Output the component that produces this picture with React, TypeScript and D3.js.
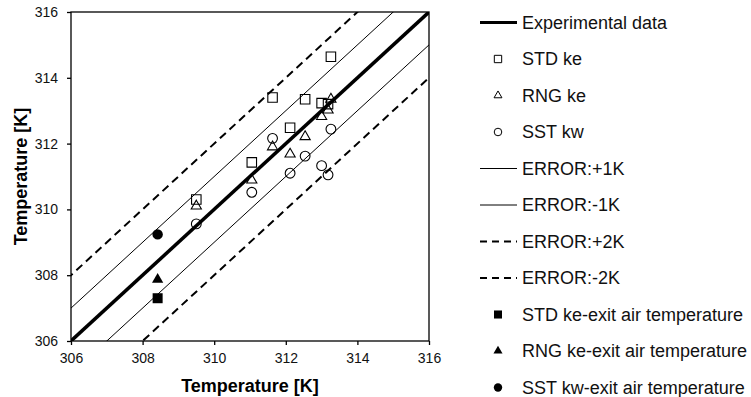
import React, { useRef, useEffect } from "react";
import * as d3 from "d3";

// measured temperatures (x) and predicted temperatures per model (y)
const measured = [309.5, 311.05, 311.63, 312.12, 312.54, 313.0, 313.18, 313.26];
const stdKe = [310.3, 311.43, 313.4, 312.48, 313.35, 313.23, 313.2, 314.64];
const rngKe = [310.1, 310.89, 311.9, 311.68, 312.21, 312.82, 313.02, 313.35];
const sstKw = [309.56, 310.52, 312.16, 311.1, 311.62, 311.33, 311.05, 312.44];

// exit air temperature points
const exitMeasured = 308.42;
const exitStd = 307.3;
const exitRng = 307.87;
const exitSst = 309.24;

const axisTicks = [306, 308, 310, 312, 314, 316];
const errorOffsets = [0, 1, -1, 2, -2];

const legendLabels = [
  "Experimental data",
  "STD ke",
  "RNG ke",
  "SST kw",
  "ERROR:+1K",
  "ERROR:-1K",
  "ERROR:+2K",
  "ERROR:-2K",
  "STD ke-exit air temperature",
  "RNG ke-exit air temperature",
  "SST kw-exit air temperature",
];

const font = "'Liberation Sans', Arial, sans-serif";

const App = () => {
  const svgRef = useRef<SVGSVGElement>(null);

  useEffect(() => {
    const svg = d3.select(svgRef.current);
    svg.selectAll("*").remove();
    const width = 751;
    const height = 397;
    const margin = { top: 12, right: 322, bottom: 56, left: 71 };

    svg.attr("width", width).attr("height", height);

    const x = d3
      .scaleLinear()
      .domain([306, 316])
      .range([margin.left, width - margin.right]);
    const y = d3
      .scaleLinear()
      .domain([306, 316])
      .range([height - margin.bottom, margin.top]);

    svg
      .append("clipPath")
      .attr("id", "plot-clip")
      .append("rect")
      .attr("x", margin.left)
      .attr("y", margin.top)
      .attr("width", x(316) - x(306))
      .attr("height", y(306) - y(316));

    // experimental diagonal and error bands
    const lineStyle = (off: number) => {
      if (off === 0) return { w: 3.5, dash: null };
      if (Math.abs(off) === 1) return { w: 1, dash: null };
      return { w: 2, dash: "8,5" };
    };

    const lines = svg.append("g").attr("clip-path", "url(#plot-clip)");
    errorOffsets.forEach((off) => {
      const st = lineStyle(off);
      lines
        .append("path")
        .datum([300, 322])
        .attr("fill", "none")
        .attr("stroke", "#000")
        .attr("stroke-width", st.w)
        .attr("stroke-dasharray", st.dash)
        .attr(
          "d",
          d3
            .line<number>()
            .x((d) => x(d))
            .y((d) => y(d + off))
        );
    });

    // frame
    svg
      .append("rect")
      .attr("x", margin.left)
      .attr("y", margin.top)
      .attr("width", x(316) - x(306))
      .attr("height", y(306) - y(316))
      .attr("fill", "none")
      .attr("stroke", "#000")
      .attr("stroke-width", 1.3);

    const xAxis = svg
      .append("g")
      .attr("transform", `translate(0,${y(306)})`)
      .call(d3.axisBottom(x).tickValues(axisTicks).tickSize(4).tickPadding(8));
    const yAxis = svg
      .append("g")
      .attr("transform", `translate(${x(306)},0)`)
      .call(d3.axisLeft(y).tickValues(axisTicks).tickSize(4).tickPadding(9));
    [xAxis, yAxis].forEach((a) => {
      a.select(".domain").remove();
      a.selectAll("line").attr("stroke", "#000").attr("stroke-width", 1.3);
      a.selectAll("text")
        .style("font-family", font)
        .style("font-size", "14px")
        .attr("fill", "#111");
    });

    svg
      .append("text")
      .attr("x", (x(306) + x(316)) / 2)
      .attr("y", 392)
      .attr("text-anchor", "middle")
      .style("font-family", font)
      .style("font-size", "18px")
      .style("font-weight", "bold")
      .text("Temperature [K]");
    svg
      .append("text")
      .attr("transform", `translate(27,${(y(306) + y(316)) / 2}) rotate(-90)`)
      .attr("text-anchor", "middle")
      .style("font-family", font)
      .style("font-size", "18px")
      .style("font-weight", "bold")
      .text("Temperature [K]");

    // markers
    const sym = (type: d3.SymbolType, size: number) =>
      d3.symbol().type(type).size(size)();
    const series = [
      { vals: stdKe, type: d3.symbolSquare, size: 90 },
      { vals: rngKe, type: d3.symbolTriangle, size: 45 },
      { vals: sstKw, type: d3.symbolCircle, size: 75 },
    ];
    series.forEach((s) => {
      svg
        .append("g")
        .selectAll("path")
        .data(s.vals)
        .enter()
        .append("path")
        .attr("transform", (d, i) => `translate(${x(measured[i])},${y(d)})`)
        .attr("d", sym(s.type, s.size))
        .attr("fill", "none")
        .attr("stroke", "#000")
        .attr("stroke-width", 1.1);
    });

    const exits = [
      { v: exitStd, type: d3.symbolSquare, size: 100 },
      { v: exitRng, type: d3.symbolTriangle, size: 55 },
      { v: exitSst, type: d3.symbolCircle, size: 85 },
    ];
    exits.forEach((e) => {
      svg
        .append("path")
        .attr("transform", `translate(${x(exitMeasured)},${y(e.v)})`)
        .attr("d", sym(e.type, e.size))
        .attr("fill", "#000");
    });

    // legend
    const legend = svg
      .append("g")
      .style("font-family", font)
      .style("font-size", "18px");
    const rowY = (i: number) => 22.5 + i * 36.5;
    legendLabels.forEach((label, i) => {
      const cy = rowY(i);
      const g = legend.append("g");
      if (i === 0 || (i >= 4 && i <= 7)) {
        const st = lineStyle(i === 0 ? 0 : i <= 5 ? 1 : 2);
        g.append("line")
          .attr("x1", 480)
          .attr("x2", 517)
          .attr("y1", cy)
          .attr("y2", cy)
          .attr("stroke", "#000")
          .attr("stroke-width", i === 0 ? 3 : st.w)
          .attr("stroke-dasharray", st.dash ? "7,5" : null);
      } else {
        const s = i <= 3 ? series[i - 1] : exits[i - 8];
        const filled = i >= 8;
        g.append("path")
          .attr("transform", `translate(498,${cy})`)
          .attr("d", sym(s.type, filled ? s.size * 0.65 : s.size * 0.6))
          .attr("fill", filled ? "#000" : "none")
          .attr("stroke", filled ? "none" : "#000")
          .attr("stroke-width", 1);
      }
      g.append("text")
        .attr("x", 522)
        .attr("y", cy)
        .attr("dy", "0.35em")
        .attr("fill", "#111")
        .text(label);
    });
  }, []);

  return (
    <svg
      ref={svgRef}
      style={{ position: "absolute", left: 0, top: 0, background: "#fff" }}
    ></svg>
  );
};

export default App;
